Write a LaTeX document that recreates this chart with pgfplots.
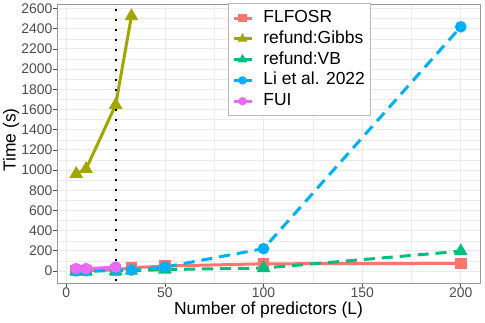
\documentclass[border=0pt]{standalone}
\usepackage{fontspec}
\setmainfont{Liberation Sans}
\usepackage{pgfplots}
\pgfplotsset{compat=1.18}
\definecolor{cfl}{HTML}{F8766D}
\definecolor{cgb}{HTML}{A3A500}
\definecolor{cvb}{HTML}{00BF7D}
\definecolor{cli}{HTML}{00B0F6}
\definecolor{cfu}{HTML}{E76BF3}
\definecolor{gridc}{HTML}{EBEBEB}
\definecolor{tickc}{HTML}{4D4D4D}
\begin{document}
\begin{tikzpicture}
\begin{axis}[
  scale only axis,
  width=423bp, height=279bp,
  xmin=-4.75, xmax=209.75,
  ymin=-118, ymax=2645,
  xtick={0,50,100,150,200},
  ytick={0,200,...,2600},
  minor x tick num=1, minor y tick num=1,
  grid=both,
  major grid style={gridc, line width=0.9bp},
  minor grid style={gridc, line width=0.45bp},
  axis line style={gray!80, line width=0.8bp},
  tick align=outside,
  xtick pos=left, ytick pos=left,
  major tick length=3.5bp, minor tick length=0pt,
  tick style={tickc, line width=0.8bp},
  ticklabel style={font=\fontsize{14}{16}\selectfont, text=tickc},
  xticklabel style={inner sep=1bp},
  yticklabel style={inner sep=0.8bp},
  /pgf/number format/assume math mode=true,
  /pgf/number format/1000 sep={},
  xlabel={Number of predictors (L)},
  ylabel={Time (s)},
  every axis x label/.style={at={(axis description cs:0.5,-0.1129)}, anchor=base,
    inner sep=0.5bp, font=\fontsize{17.5}{20}\selectfont},
  every axis y label/.style={at={(axis description cs:-0.1087,0.5125)}, rotate=90, anchor=center,
    inner sep=0.5bp, font=\fontsize{17.5}{20}\selectfont},
  every mark/.append style={line width=0.4bp},
  legend cell align=left,
  legend image code/.code={
    \draw[#1, solid] (0bp,0bp) -- (18bp,0bp);
    \draw[#1, solid, mark size=2.6bp] plot coordinates {(9bp,0bp)};
  },
  legend style={
    at={(0.4043,1.0025)}, anchor=north west,
    draw=gray!55, fill=white, line width=0.6bp,
    font=\fontsize{17.5}{20}\selectfont,
    inner xsep=3.7bp, inner ysep=4bp,
    nodes={inner sep=1.6bp, text height=13.2bp, text depth=4.4bp},
    /tikz/every odd column/.append style={column sep=8.8bp}
  }
]
% FLFOSR
\addplot[cfl, line width=3bp, mark=square*, mark size=4.3bp] coordinates {
  (5,5) (10,5) (25,10) (33,33) (50,50) (100,72) (200,76)};
\addlegendentry{FLFOSR}
% refund:Gibbs
\addplot[cgb, line width=3bp, mark=triangle*, mark size=4.9bp] coordinates {
  (5,962) (10,1011) (25,1646) (33,2525)};
\addlegendentry{refund:Gibbs}
% refund:VB
\addplot[cvb, line width=3bp, dash pattern=on 11bp off 7bp, mark=triangle*, mark size=4.9bp,
  mark options={solid}] coordinates {
  (5,0) (10,0) (25,2) (33,3) (50,15) (100,30) (200,197)};
\addlegendentry{refund:VB}
% Li et al. 2022
\addplot[cli, line width=3bp, dash pattern=on 11bp off 7bp, mark=*, mark size=4.2bp,
  mark options={solid}] coordinates {
  (5,2) (10,3) (25,15) (33,10) (50,40) (100,222) (200,2419)};
\addlegendentry{Li et al. 2022}
% FUI
\addplot[cfu, line width=3bp, mark=*, mark size=4.2bp] coordinates {
  (5,24) (10,24) (25,40)};
\addlegendentry{FUI}
% vertical reference line at L = 25
\addplot[black, line width=2.2bp, dash pattern=on 2.2bp off 7.8bp, forget plot] coordinates {
  (25,-200) (25,2800)};
\end{axis}
\pgfresetboundingbox
\path[use as bounding box] (-57bp,-40bp) rectangle (428bp,283bp);
\end{tikzpicture}
\end{document}
